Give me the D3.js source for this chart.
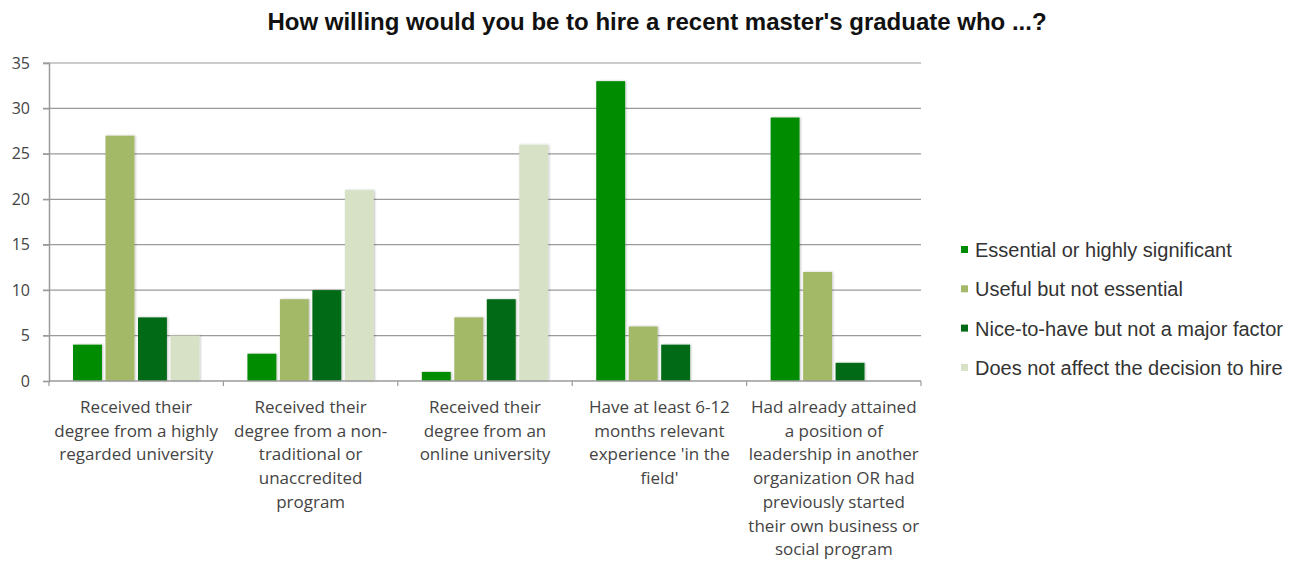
<!DOCTYPE html>
<html><head><meta charset="utf-8">
<script src="https://cdn.jsdelivr.net/npm/d3@7"></script>
<style>html,body{margin:0;padding:0;background:#fff;}svg{display:block;}</style>
</head><body>
<svg id="chart" width="1306" height="563"></svg>
<script>
const title = "How willing would you be to hire a recent master's graduate who ...?";
const categories = [
  "Received their|degree from a highly|regarded university",
  "Received their|degree from a non-|traditional or|unaccredited|program",
  "Received their|degree from an|online university",
  "Have at least 6-12|months relevant|experience 'in the|field'",
  "Had already attained|a position of|leadership in another|organization OR had|previously started|their own business or|social program"
];
const seriesNames = [
  "Essential or highly significant",
  "Useful but not essential",
  "Nice-to-have but not a major factor",
  "Does not affect the decision to hire"
];
const essential = [4, 3, 1, 33, 29];
const useful = [27, 9, 7, 6, 12];
const niceToHave = [7, 10, 9, 4, 2];
const noEffect = [5, 21, 26, 0, 0];
const yTicks = [0, 5, 10, 15, 20, 25, 30, 35];
const colors = ["#008c00", "#a3b967", "#006b16", "#d6e1c6"];

(function () {
const seriesValues = [essential, useful, niceToHave, noEffect];
const svg = d3.select("#chart");
const mLeft = 49, mRight = 921, mTop = 63, mBottom = 381;

const x = d3.scaleBand().domain(d3.range(categories.length)).range([mLeft, mRight]).paddingInner(0).paddingOuter(0);
const xs = d3.scaleBand().domain(d3.range(seriesNames.length)).range([0, x.bandwidth()]).paddingInner(0.11).paddingOuter(0.74);
const y = d3.scaleLinear().domain([0, 35]).range([mBottom, mTop]);

const defs = svg.append("defs");
const f = defs.append("filter").attr("id","sh").attr("x","-20%").attr("y","-5%").attr("width","140%").attr("height","110%");
f.append("feDropShadow").attr("dx",1).attr("dy",0).attr("stdDeviation",1).attr("flood-color","#000").attr("flood-opacity",0.25);

svg.append("text").attr("x", 657).attr("y", 30).attr("text-anchor","middle")
  .attr("font-family","'Liberation Sans', Arial, sans-serif").attr("font-weight","bold")
  .attr("font-size", 24).attr("fill","#111").text(title);

svg.append("g").selectAll("line").data(yTicks.filter(d => d > 0)).join("line")
  .attr("x1", mLeft - 6).attr("x2", mRight).attr("y1", d => y(d)).attr("y2", d => y(d))
  .attr("stroke","#9a9a9a").attr("stroke-width",1.2);

const yAxis = svg.append("g").attr("transform",`translate(${mLeft},0)`)
  .call(d3.axisLeft(y).tickValues(yTicks).tickSize(6).tickPadding(13));
yAxis.select(".domain").attr("stroke","#9a9a9a").attr("stroke-width",1.5);
yAxis.selectAll(".tick line").attr("stroke","#9a9a9a").attr("stroke-width",1.2);
yAxis.selectAll("text").attr("font-family","'Open Sans', sans-serif").attr("font-size",16).attr("fill","#444");

const groups = svg.append("g").selectAll("g").data(categories).join("g")
  .attr("transform", (d,i) => `translate(${x(i)},0)`);
groups.selectAll("rect").data((d,i) => seriesValues.map((s,k) => ({k, v: s[i]})).filter(e => e.v > 0)).join("rect")
  .attr("x", e => xs(e.k)).attr("width", xs.bandwidth())
  .attr("y", e => y(e.v)).attr("height", e => y(0) - y(e.v))
  .attr("fill", e => colors[e.k]).attr("filter","url(#sh)");

const xAxis = svg.append("g").attr("transform",`translate(0,${mBottom})`);
xAxis.append("line").attr("x1", mLeft).attr("x2", mRight).attr("stroke","#9a9a9a").attr("stroke-width",1.5);
const bounds = d3.range(categories.length + 1).map(i => i < categories.length ? x(i) : mRight);
xAxis.selectAll(".tk").data(bounds).join("line").attr("class","tk")
  .attr("x1", d => d).attr("x2", d => d).attr("y1", 0).attr("y2", 5).attr("stroke","#9a9a9a").attr("stroke-width",1.2);

const labels = svg.append("g").selectAll("text").data(categories).join("text")
  .attr("text-anchor","middle").attr("font-family","'Open Sans', sans-serif").attr("font-size",17).attr("fill","#444")
  .attr("transform",(d,i) => `translate(${x(i) + x.bandwidth()/2},413)`);
labels.selectAll("tspan").data(d => d.split("|")).join("tspan")
  .attr("x",0).attr("y",(d,j) => j * 23.7).text(d => d);

const lg = svg.append("g").selectAll("g").data(seriesNames).join("g")
  .attr("transform",(d,i) => `translate(961,${251 + i*39.3})`);
lg.append("rect").attr("x",0).attr("y",-5).attr("width",7).attr("height",7).attr("fill",(d,i) => colors[i]);
lg.append("text").attr("x",14).attr("y",6).attr("font-family","'Liberation Sans', Arial, sans-serif")
  .attr("font-size",20).attr("fill","#333").text(d => d);
})();
</script>
</body></html>
